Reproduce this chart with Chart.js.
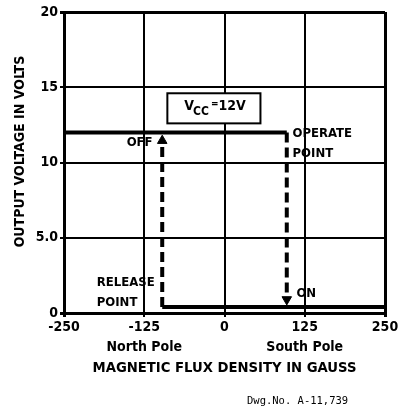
<!DOCTYPE html>
<html>
<head>
<meta charset="utf-8">
<script src="https://cdn.jsdelivr.net/npm/chart.js@4/dist/chart.umd.min.js"></script>
<style>
  html, body { margin: 0; padding: 0; background: #fff; }
  #wrap { width: 407px; height: 408px; }
</style>
</head>
<body>
<div id="wrap"><canvas id="hall-chart" width="407" height="408"></canvas></div>
<script>
// axis ticks
var xTicks = [-250, -125, 0, 125, 250];
var xTickLabels = ['-250', ['-125', 'North Pole'], '0', ['125', 'South Pole'], '250'];
var yTicks = [0, 5, 10, 15, 20];
var yTickLabels = ['0', '5.0', '10', '15', '20'];

// output high (OFF) and low (ON) branches
var offX = [-250, 97];
var offY = [12, 12];
var onX = [-97, 250];
var onY = [0.4, 0.4];

// switching transitions (dashed, with arrow at end)
var operateX = [97, 97];
var operateY = [12, 0.9];
var releaseX = [-97, -97];
var releaseY = [0.4, 11.45];

function pts(xs, ys) {
    var out = [];
    for (var i = 0; i < xs.length; i++) out.push({x: xs[i], y: ys[i]});
    return out;
}

var FONT = "'DejaVu Sans Condensed', 'Liberation Sans Narrow', 'DejaVu Sans', sans-serif";
Chart.defaults.font.family = FONT;
Chart.defaults.font.weight = 'bold';
Chart.defaults.color = '#000';

// labels, Vcc box and drawing number
var notes = {
    id: 'notes',
    afterDatasetsDraw: function(chart) {
        var ctx = chart.ctx, xs = chart.scales.x, ys = chart.scales.y;
        var px = function(v) { return xs.getPixelForValue(v); };
        var py = function(v) { return ys.getPixelForValue(v); };
        ctx.save();
        ctx.fillStyle = '#000';
        ctx.textBaseline = 'middle';
        ctx.font = 'bold 13px ' + FONT;

        ctx.textAlign = 'right';
        ctx.fillText('OFF', px(-112), py(11.3));

        ctx.textAlign = 'left';
        ctx.fillText('OPERATE', px(106), py(11.95));
        ctx.fillText('POINT', px(106), py(10.6));
        ctx.fillText('RELEASE', px(-199), py(2.0));
        ctx.fillText('POINT', px(-199), py(0.66));
        ctx.fillText('ON', px(112), py(1.26));

        // Vcc box
        var bx = px(-89), by = py(14.6), bw = px(56) - bx, bh = py(12.6) - by;
        ctx.fillStyle = '#fff';
        ctx.fillRect(bx, by, bw, bh);
        ctx.strokeStyle = '#000';
        ctx.lineWidth = 2;
        ctx.strokeRect(bx, by, bw, bh);
        ctx.fillStyle = '#000';
        var cy = by + bh / 2;
        var tx = bx + 17;
        ctx.font = 'bold 14px ' + FONT;
        ctx.fillText('V', tx, cy - 2);
        tx += ctx.measureText('V').width - 1;
        ctx.font = 'bold 12px ' + FONT;
        ctx.fillText('CC', tx, cy + 4);
        tx += ctx.measureText('CC').width + 2;
        ctx.font = 'bold 10px ' + FONT;
        ctx.fillText('=', tx, cy - 4);
        tx += ctx.measureText('=').width;
        ctx.font = 'bold 14px ' + FONT;
        ctx.fillText('12V', tx, cy - 2);

        // drawing number
        ctx.font = "10.5px 'DejaVu Sans Mono', monospace";
        ctx.textAlign = 'left';
        ctx.fillText('Dwg.No. A-11,739', 247, 401);
        ctx.restore();
    }
};

function edgeWidth(c) {
    return (c.tick && (c.index === 0 || c.index === 4)) ? 3 : 2;
}

var ctx = document.getElementById('hall-chart').getContext('2d');
var chart = new Chart(ctx, {
    type: 'scatter',
    data: {
        datasets: [
            { data: pts(offX, offY), showLine: true, borderColor: '#000', borderWidth: 4, pointRadius: 0 },
            { data: pts(onX, onY), showLine: true, borderColor: '#000', borderWidth: 4, pointRadius: 0 },
            { data: pts(operateX, operateY), showLine: true, borderColor: '#000', borderWidth: 4,
              borderDash: [10, 5], pointStyle: 'triangle', pointRadius: [0, 5.5],
              pointRotation: 180, pointBackgroundColor: '#000', pointBorderColor: '#000', pointBorderWidth: 1 },
            { data: pts(releaseX, releaseY), showLine: true, borderColor: '#000', borderWidth: 4,
              borderDash: [10, 5], pointStyle: 'triangle', pointRadius: [0, 5.5],
              pointRotation: 0, pointBackgroundColor: '#000', pointBorderColor: '#000', pointBorderWidth: 1 }
        ]
    },
    options: {
        responsive: false,
        animation: false,
        events: [],
        layout: { padding: { left: 0, right: 22, top: 12, bottom: 0 } },
        plugins: { legend: { display: false }, tooltip: { enabled: false } },
        scales: {
            x: {
                type: 'linear', min: -250, max: 250,
                afterBuildTicks: function(s) { s.ticks = xTicks.map(function(v) { return {value: v}; }); },
                afterFit: function(s) { s.height = 95; },
                ticks: {
                    padding: 0, maxRotation: 0, autoSkip: false,
                    font: { size: 14, lineHeight: 1.43 },
                    callback: function(v) { return xTickLabels[xTicks.indexOf(v)]; }
                },
                grid: { color: '#000', lineWidth: edgeWidth, tickLength: 4 },
                border: { color: '#000', width: 3 },
                title: {
                    display: true, text: 'MAGNETIC FLUX DENSITY IN GAUSS',
                    font: { size: 14.7 }, padding: { top: 0, bottom: 31 }
                }
            },
            y: {
                type: 'linear', min: 0, max: 20,
                afterBuildTicks: function(s) { s.ticks = yTicks.map(function(v) { return {value: v}; }); },
                afterFit: function(s) { s.width = 64; },
                ticks: {
                    padding: 2, font: { size: 14 },
                    callback: function(v) { return yTickLabels[yTicks.indexOf(v)]; }
                },
                grid: { color: '#000', lineWidth: edgeWidth, tickLength: 4 },
                border: { color: '#000', width: 3 },
                title: {
                    display: true, text: '     OUTPUT VOLTAGE IN VOLTS',
                    font: { size: 14 }, padding: { top: 12, bottom: 0 }
                }
            }
        }
    },
    plugins: [notes]
});
</script>
</body>
</html>
